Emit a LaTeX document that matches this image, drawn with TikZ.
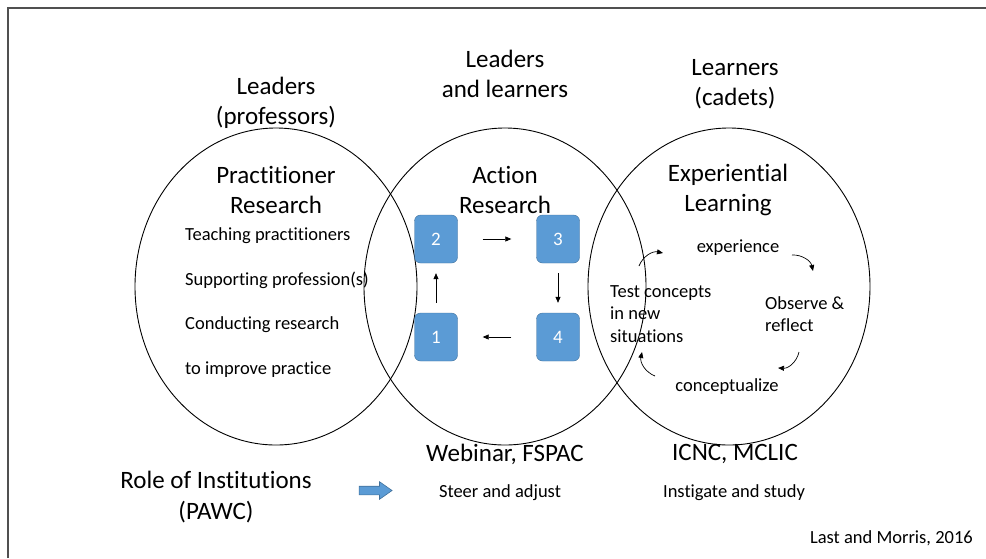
\documentclass[tikz,border=0pt]{standalone}
\usepackage{fontspec}
\setmainfont{Carlito}[Ligatures={NoCommon}]
\usepackage{tikz}
\usetikzlibrary{arrows.meta, shapes.geometric, shapes.arrows}
\definecolor{boxblue}{HTML}{5B9BD5}
\definecolor{boxedge}{HTML}{41719C}
\definecolor{framegray}{HTML}{505050}

\begin{document}
\begin{tikzpicture}[x=1pt, y=-1pt,
  big/.style={align=center, inner sep=0pt, font=\fontsize{25}{30.5}\selectfont},
  small/.style={align=left, inner sep=0pt, font=\fontsize{18.5}{22.5}\selectfont},
  ring/.style={draw, ellipse, line width=0.9pt, minimum width=282pt, minimum height=317pt, inner sep=0pt},
  stagebox/.style={draw=boxedge, fill=boxblue, rounded corners=6pt, text=white, minimum width=43pt, minimum height=48pt, inner sep=0pt, font=\fontsize{19}{22}\selectfont},
  tip/.style={line width=0.7pt, -{Triangle[length=6pt, width=5pt]}},
  gap/.style={shorten <=#1, shorten >=#1}]
  \useasboundingbox (0,0) rectangle (986,558);
  % Frame
  \draw[framegray, line width=1.6pt] (8,558) -- (8,8) -- (986,8);

  % Circles
  \node[ring] (left) at (276,286.5) {};
  \node[ring] (mid) at (505,286.5) {};
  \node[ring] (right) at (729,286.5) {};

  % Headings
  \node[big] (hdlead) at (276,103) {Leaders\\(professors)};
  \node[big] (hdboth) at (505,74) {Leaders\\and learners};
  \node[big] (hdlearn) at (735,84) {Learners\\(cadets)};

  \node[big] (prac) at (276,190) {Practitioner\\Research};
  \node[big] (action) at (505,190) {Action\\Research};
  \node[big] (exper) at (728,190) {Experiential\\Learning};

  % Practitioner list
  \node[small, anchor=west] (teach) at (185,236) {Teaching practitioners};
  \node[small, anchor=west] (support) at (185,280) {Supporting profession(s)};
  \node[small, anchor=west] (conduct) at (185,325) {Conducting research};
  \node[small, anchor=west] (improve) at (185,370) {to improve practice};

  % Action research cycle
  \node[stagebox] (s1) at (436,337) {1};
  \node[stagebox] (s2) at (436,239) {2};
  \node[stagebox] (s3) at (558,239) {3};
  \node[stagebox] (s4) at (558,337) {4};

  \draw[tip, gap=25pt] (s2) -- (s3);
  \draw[tip, gap=10pt] (s3) -- (s4);
  \draw[tip, gap=25pt] (s4) -- (s1);
  \draw[tip, gap=10pt] (s1) -- (s2);

  % Experiential learning cycle
  \node[small] (experience) at (738,248) {experience};
  \node[small, anchor=west] (observe) at (765,314) {Observe \&\\reflect};
  \node[small] (concept) at (727,387) {conceptualize};
  \node[small, anchor=west] (test) at (610,314) {Test concepts\\in new\\situations};

  \coordinate (a1) at (639,266);
  \coordinate (b1) at (663,253);
  \coordinate (a2) at (792,255);
  \coordinate (b2) at (813,271);
  \coordinate (a3) at (799,352);
  \coordinate (b3) at (778,368);
  \coordinate (a4) at (655,376);
  \coordinate (b4) at (642,352);
  \draw[tip] (a1) to[bend left=40] (b1);
  \draw[tip] (a2) to[bend left=40] (b2);
  \draw[tip] (a3) to[bend left=40] (b3);
  \draw[tip] (a4) to[bend left=40] (b4);

  % Bottom row
  \node[big] (webinar) at (505,454) {Webinar, FSPAC};
  \node[big] (icnc) at (735,454) {ICNC, MCLIC};
  \node[small] (steer) at (500,493) {Steer and adjust};
  \node[small] (instig) at (734,493) {Instigate and study};
  \node[big] (role) at (216,497) {Role of Institutions\\(PAWC)};
  \node[single arrow, draw=boxedge, fill=boxblue, line width=0.6pt, inner sep=4pt,
    minimum height=33pt, single arrow head extend=4.5pt, single arrow tip angle=70] (inst) at (372.5,490.5) {};

  \node[small, anchor=east] (cite) at (973,538) {Last and Morris, 2016};
\end{tikzpicture}
\end{document}
